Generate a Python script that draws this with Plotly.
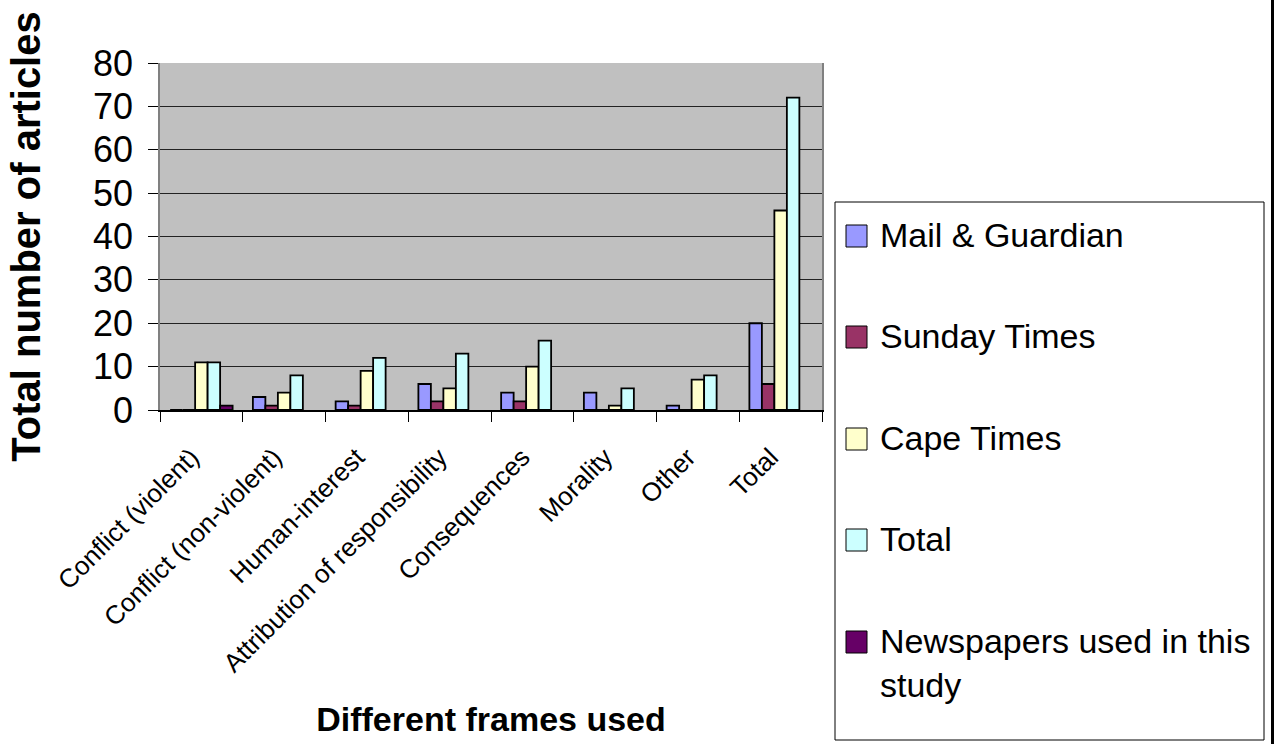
import plotly.graph_objects as go

# Frames coded in the articles
frames = [
    "Conflict (violent)",
    "Conflict (non-violent)",
    "Human-interest",
    "Attribution of responsibility",
    "Consequences",
    "Morality",
    "Other",
    "Total",
]

# Article counts per newspaper and frame
mail_guardian = [0, 3, 2, 6, 4, 4, 1, 20]
sunday_times = [0, 1, 1, 2, 2, 0, 0, 6]
cape_times = [11, 4, 9, 5, 10, 1, 7, 46]
total = [11, 8, 12, 13, 16, 5, 8, 72]
newspapers_used = [1, None, None, None, None, None, None, None]

series_names = [
    "Mail & Guardian",
    "Sunday Times",
    "Cape Times",
    "Total",
    "Newspapers used in this study",
]
series_values = [mail_guardian, sunday_times, cape_times, total, newspapers_used]
series_colors = ["#9999FF", "#993366", "#FFFFCC", "#CCFFFF", "#660066"]

FONT = "Liberation Sans, Arial, sans-serif"
W, H = 1274, 744
L, R, T, B = 160, 822, 63, 410  # plot-area edges in pixels


def px_x(x):
    return (x - L) / (R - L)


def px_y(y):
    return (B - y) / (B - T)


fig = go.Figure()
for name, vals, col in zip(series_names, series_values, series_colors):
    fig.add_trace(
        go.Bar(
            x=frames,
            y=vals,
            name=name,
            marker=dict(color=col, line=dict(color="#000000", width=1.8)),
            showlegend=False,
        )
    )

# Legend box drawn by hand so the swatches can be large
shapes = [
    dict(type="rect", xref="paper", yref="paper",
         x0=px_x(835), x1=px_x(1264), y0=px_y(740), y1=px_y(202),
         line=dict(color="#000000", width=1), fillcolor="#FFFFFF", layer="below"),
    dict(type="line", xref="paper", yref="paper",
         x0=px_x(1272.5), x1=px_x(1272.5), y0=px_y(744), y1=px_y(0),
         line=dict(color="#000000", width=3)),
]
annotations = []
row_centers = [236, 337, 439, 540, 642]
for name, col, cy in zip(series_names, series_colors, row_centers):
    shapes.append(dict(
        type="rect", xref="paper", yref="paper",
        x0=px_x(846), x1=px_x(867), y0=px_y(cy + 11), y1=px_y(cy - 11),
        line=dict(color="#000000", width=1), fillcolor=col,
    ))
    label = name.replace(" in this study", " in this<br>study")
    annotations.append(dict(
        xref="paper", yref="paper",
        x=px_x(878), y=px_y(cy - 22),
        xanchor="left", yanchor="top", align="left",
        text=label, showarrow=False,
        font=dict(family=FONT, size=34, color="#000000"),
    ))

fig.update_layout(
    width=W, height=H,
    margin=dict(l=L, r=W - R, t=T, b=H - B, autoexpand=False),
    paper_bgcolor="#FFFFFF",
    plot_bgcolor="#C0C0C0",
    barmode="group",
    bargap=0.245,
    bargroupgap=0,
    font=dict(family=FONT, color="#000000"),
    shapes=shapes,
    annotations=annotations,
)

fig.update_xaxes(
    tickangle=-45,
    tickfont=dict(family=FONT, size=26, color="#000000"),
    ticks="outside", tickson="boundaries", ticklen=10, tickcolor="#000000",
    showline=True, linecolor="#000000", linewidth=1.5,
    ticklabelstandoff=20, ticklabelshift=-10,
    showgrid=False,
    title=dict(text="<b>Different frames used</b>", standoff=30,
               font=dict(family=FONT, size=34, color="#000000")),
)

fig.update_yaxes(
    range=[0, 80], dtick=10,
    tickfont=dict(family=FONT, size=36, color="#000000"),
    ticks="outside", ticklen=10, tickcolor="#000000",
    showline=True, linecolor="#808080", linewidth=1.5, mirror=True,
    showgrid=True, gridcolor="#222222", gridwidth=1,
    zeroline=False,
    ticklabelstandoff=8,
    title=dict(text="<b>Total number of articles</b>", standoff=40,
               font=dict(family=FONT, size=40, color="#000000")),
)

fig.write_html("out.html")
